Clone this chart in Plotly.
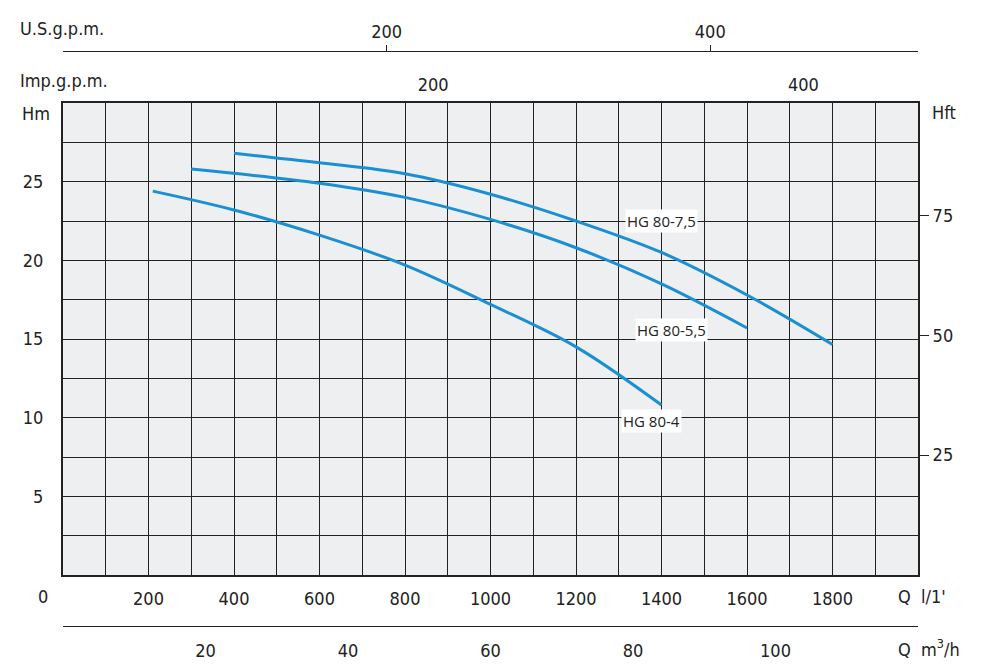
import plotly.graph_objects as go

q75 = [400, 600, 800, 1000, 1200, 1400, 1600, 1800]
h75 = [26.8, 26.2, 25.5, 24.2, 22.5, 20.5, 17.8, 14.65]
q55 = [300, 600, 800, 1000, 1200, 1400, 1600]
h55 = [25.8, 24.9, 24.0, 22.6, 20.8, 18.5, 15.7]
q4 = [210, 400, 600, 800, 1000, 1200, 1400]
h4 = [24.4, 23.2, 21.6, 19.7, 17.2, 14.5, 10.8]
names = ["HG 80-7,5", "HG 80-5,5", "HG 80-4"]
label_pos = [(1400, 22.5), (1423, 15.6), (1377, 9.8)]

blue = "#1a8fd2"
font = dict(family="DejaVu Sans Condensed", size=18, color="#222")
T, B = 20, 30
H = 670 - T - B
def py(y):
    return (670 - B - y) / H

fig = go.Figure()
for q, h in [(q75, h75), (q55, h55), (q4, h4)]:
    fig.add_trace(go.Scatter(x=q, y=h, mode="lines", line=dict(color=blue, width=3, shape="spline"),
                             showlegend=False))
for xa, ya in [("x2", "y"), ("x3", "y"), ("x4", "y"), ("x", "y2")]:
    fig.add_trace(go.Scatter(x=[0], y=[0], xaxis=xa, yaxis=ya, mode="markers", opacity=0, showlegend=False))

for n, (x, y) in zip(names, label_pos):
    fig.add_annotation(x=x, y=y, text=n, showarrow=False, bgcolor="white",
                       font=dict(family="Open Sans", size=15, color="#222"))

fig.update_layout(
    width=983, height=670, paper_bgcolor="white", plot_bgcolor="#eeeff1",
    margin=dict(l=55, r=73, t=T, b=B), font=font,
    xaxis=dict(range=[0, 2000], tickvals=[200, 400, 600, 800, 1000, 1200, 1400, 1600, 1800],
               showgrid=True, gridcolor="#222", gridwidth=1,
               showline=True, linecolor="#222", linewidth=2, mirror=True, zeroline=False,
               ticks="", ticklabelstandoff=6,
               minor=dict(dtick=100, showgrid=True, gridcolor="#222", gridwidth=1)),
    yaxis=dict(domain=[py(567), py(95)], range=[0, 30], tickvals=[5, 10, 15, 20, 25],
               showgrid=True, gridcolor="#222",
               showline=True, linecolor="#222", linewidth=2, mirror=True, zeroline=False,
               ticks="", ticklabelstandoff=14,
               minor=dict(dtick=2.5, showgrid=True, gridcolor="#222", gridwidth=1)),
    xaxis2=dict(overlaying="x", side="top", anchor="free", position=py(43), range=[0, 2000 / 3.785],
                tickvals=[200, 400], showgrid=False, showline=True, linecolor="#222", linewidth=1,
                ticks="outside", ticklen=6, tickcolor="#222", zeroline=False),
    xaxis3=dict(overlaying="x", side="top", anchor="free", position=py(95), range=[0, 2000 / 4.33],
                tickvals=[200, 400], showgrid=False, showline=False, ticks="", zeroline=False,
                ticklabelstandoff=8),
    xaxis4=dict(overlaying="x", side="bottom", anchor="free", position=py(618), range=[0, 120],
                tickvals=[20, 40, 60, 80, 100], showgrid=False, showline=True, linecolor="#222",
                linewidth=1, ticks="", zeroline=False, ticklabelstandoff=8),
    yaxis2=dict(overlaying="y", side="right", anchor="x", range=[0, 30 * 3.281],
                tickvals=[25, 50, 75], showgrid=False, ticks="outside", ticklen=10,
                tickcolor="#222", zeroline=False),
)
ann = [("U.S.g.p.m.", 10, 20), ("Imp.g.p.m.", 10, 72), ("Hm", 12, 106), ("Hft", 922, 104),
       ("0", 28, 588), ("Q  l/1'", 888, 588), ("Q  m<sup>3</sup>/h", 888, 640)]
for t, x, y in ann:
    fig.add_annotation(xref="paper", yref="paper", x=(x - 55) / 855, y=py(y), text=t,
                       showarrow=False, xanchor="left", yanchor="middle", font=font)
fig.write_html("out.html")
